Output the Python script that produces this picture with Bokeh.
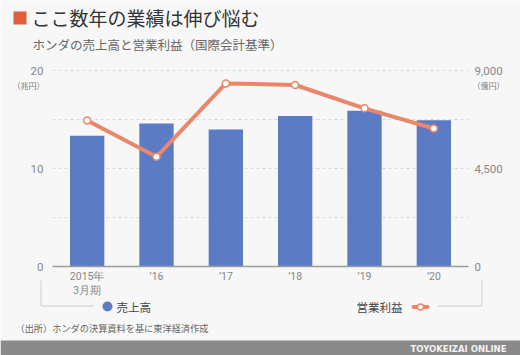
from bokeh.plotting import figure
from bokeh.models import Range1d
from bokeh.core.properties import value
from bokeh.embed import file_html
from bokeh.resources import INLINE

# ---- data ----
categories = ["2015年\n3月期", "’16", "’17", "’18", "’19", "’20"]
revenue = [13.33, 14.60, 13.99, 15.36, 15.89, 14.93]          # 売上高 (兆円)
op_profit = [6706, 5037, 8407, 8335, 7263, 6336]              # 営業利益 (億円)
left_ticks = [0, 10, 20]
left_tick_labels = ["0", "10", "20"]
right_ticks = [0, 4500, 9000]
right_tick_labels = ["0", "4,500", "9,000"]
grid_ticks = [5, 10, 15, 20]

title = "ここ数年の業績は伸び悩む"
subtitle = "ホンダの売上高と営業利益（国際会計基準）"
left_unit = "（兆円）"
right_unit = "（億円）"
source_note = "（出所）ホンダの決算資料を基に東洋経済作成"
brand = "TOYOKEIZAI ONLINE"

# ---- style / layout ----
BG = "#F7F7F7"
BLUE = "#5B7BC5"
ORANGE = "#E9876A"
JP = "Noto Sans CJK JP"
NUM = "Roboto"
GREY_TXT = "#888888"

W, H = 520, 355
PL, PR, PT, PB = 52, 468, 70, 266   # plotting area in canvas pixels
LMAX, RMAX = 20, 9000
ppu_l = (PB - PT) / LMAX
ppu_r = (PB - PT) / RMAX
ncat = len(categories)
ppx = (PR - PL) / ncat
pad = PL / ppx
cat_x = [i + 0.5 for i in range(ncat)]   # category slot centres

p = figure(width=W, height=H, output_backend="svg", toolbar_location=None,
           x_range=Range1d(-pad, ncat + (W - PR) / ppx),
           y_range=Range1d(-(H - PB) / ppu_l, LMAX + PT / ppu_l),
           x_axis_location=None, y_axis_location=None,
           min_border=0, min_border_left=0, min_border_right=0, min_border_top=0,
           min_border_bottom=0,
           background_fill_color=BG, border_fill_color=BG, outline_line_color=None)
p.xgrid.visible = False
p.ygrid.visible = False
p.extra_y_ranges = {"op": Range1d(-(H - PB) / ppu_r, RMAX + PT / ppu_r),
                    "px": Range1d(H, 0)}
p.extra_x_ranges = {"px": Range1d(0, W)}

PX = dict(x_range_name="px", y_range_name="px")

# dashed grid lines (left scale)
p.segment(x0=[PL] * len(grid_ticks), x1=[PR] * len(grid_ticks), y0=grid_ticks, y1=grid_ticks,
          x_range_name="px", line_color="#D9D9D9", line_width=1, line_dash="3 3")

# bars
p.vbar(x=cat_x, top=revenue, width=0.495, fill_color=BLUE, line_color=None)

# baseline (x axis line)
p.segment(x0=[PL], x1=[PR], y0=[0], y1=[0], x_range_name="px", line_color="#9A9A9A",
          line_width=1.5)

# operating profit line
p.line(x=cat_x, y=op_profit, y_range_name="op", line_color=ORANGE, line_width=4,
       line_join="round")
p.scatter(x=cat_x, y=op_profit, y_range_name="op", size=7, fill_color="white",
          line_color=ORANGE, line_width=1.5)

# left axis labels
p.text(x=[PL - 9] * len(left_ticks), y=left_ticks, text=left_tick_labels, x_range_name="px",
       text_font=value(NUM), text_font_size="11.5px", text_color=GREY_TXT,
       text_align="right", text_baseline="middle")
# right axis labels
p.text(x=[PR + 6] * len(right_ticks), y=right_ticks, text=right_tick_labels, x_range_name="px",
       y_range_name="op", text_font=value(NUM), text_font_size="11.5px", text_color=GREY_TXT,
       text_align="left", text_baseline="middle")
# category labels
p.text(x=cat_x, y=[PB + 3] * ncat, text=categories, y_range_name="px",
       text_font=value(NUM), text_font_size="10.5px", text_color=GREY_TXT,
       text_align="center", text_baseline="top", text_line_height=1.15)

# units
p.text(x=[PL - 8], y=[PT + 15], text=[left_unit], **PX, text_font=value(JP),
       text_font_size="8px", text_color="#777777", text_align="right", text_baseline="middle")
p.text(x=[PR + 4], y=[PT + 15], text=[right_unit], **PX, text_font=value(JP),
       text_font_size="8px", text_color="#777777", text_align="left", text_baseline="middle")

# title block
p.quad(left=[13], right=[26], top=[11], bottom=[24], **PX, fill_color="#E0603C",
       line_color=None)
p.text(x=[31], y=[17], text=[title], **PX, text_font=value(JP), text_font_size="19px",
       text_color="#333333", text_baseline="middle")
p.text(x=[32], y=[44], text=[subtitle], **PX, text_font=value(JP), text_font_size="12.5px",
       text_color="#666666", text_baseline="middle")

# legend bracket
LC = "#CCCCCC"
p.multi_line(xs=[[40.5, 40.5, 93], [437, 481.5, 481.5]], ys=[[280, 305.5, 305.5], [305.5, 305.5, 279]],
             **PX, line_color=LC, line_width=1)

# legend: 売上高 (dot then text)
p.scatter(x=[107], y=[306], **PX, size=10, fill_color=BLUE, line_color=None)
p.text(x=[116], y=[306], text=["売上高"], **PX, text_font=value(JP),
       text_font_size="11.5px", text_color="#444444", text_align="left",
       text_baseline="middle")

# legend: 営業利益 (text first, then glyph)
p.text(x=[402], y=[306], text=["営業利益"], **PX, text_font=value(JP),
       text_font_size="11.5px", text_color="#444444", text_align="right",
       text_baseline="middle")
p.segment(x0=[413], x1=[427], y0=[306.5], y1=[306.5], **PX, line_color=ORANGE, line_width=4,
          line_cap="round")
p.scatter(x=[420], y=[306.5], **PX, size=6, fill_color="white", line_color=ORANGE,
          line_width=1.5)

# source note
p.text(x=[15], y=[327], text=[source_note], **PX, text_font=value(JP), text_font_size="9.2px",
       text_color="#666666", text_baseline="middle")

# bottom band
p.quad(left=[0], right=[W], top=[340], bottom=[H + 1], **PX, fill_color="#8A8A8A",
       line_color=None)
p.text(x=[506], y=[348], text=[brand], **PX, text_font=value("DejaVu Sans"),
       text_font_size="8.5px", text_font_style="bold", text_color="#F2F2F2",
       text_align="right", text_baseline="middle")

open("out.html", "w").write(file_html(p, INLINE))
